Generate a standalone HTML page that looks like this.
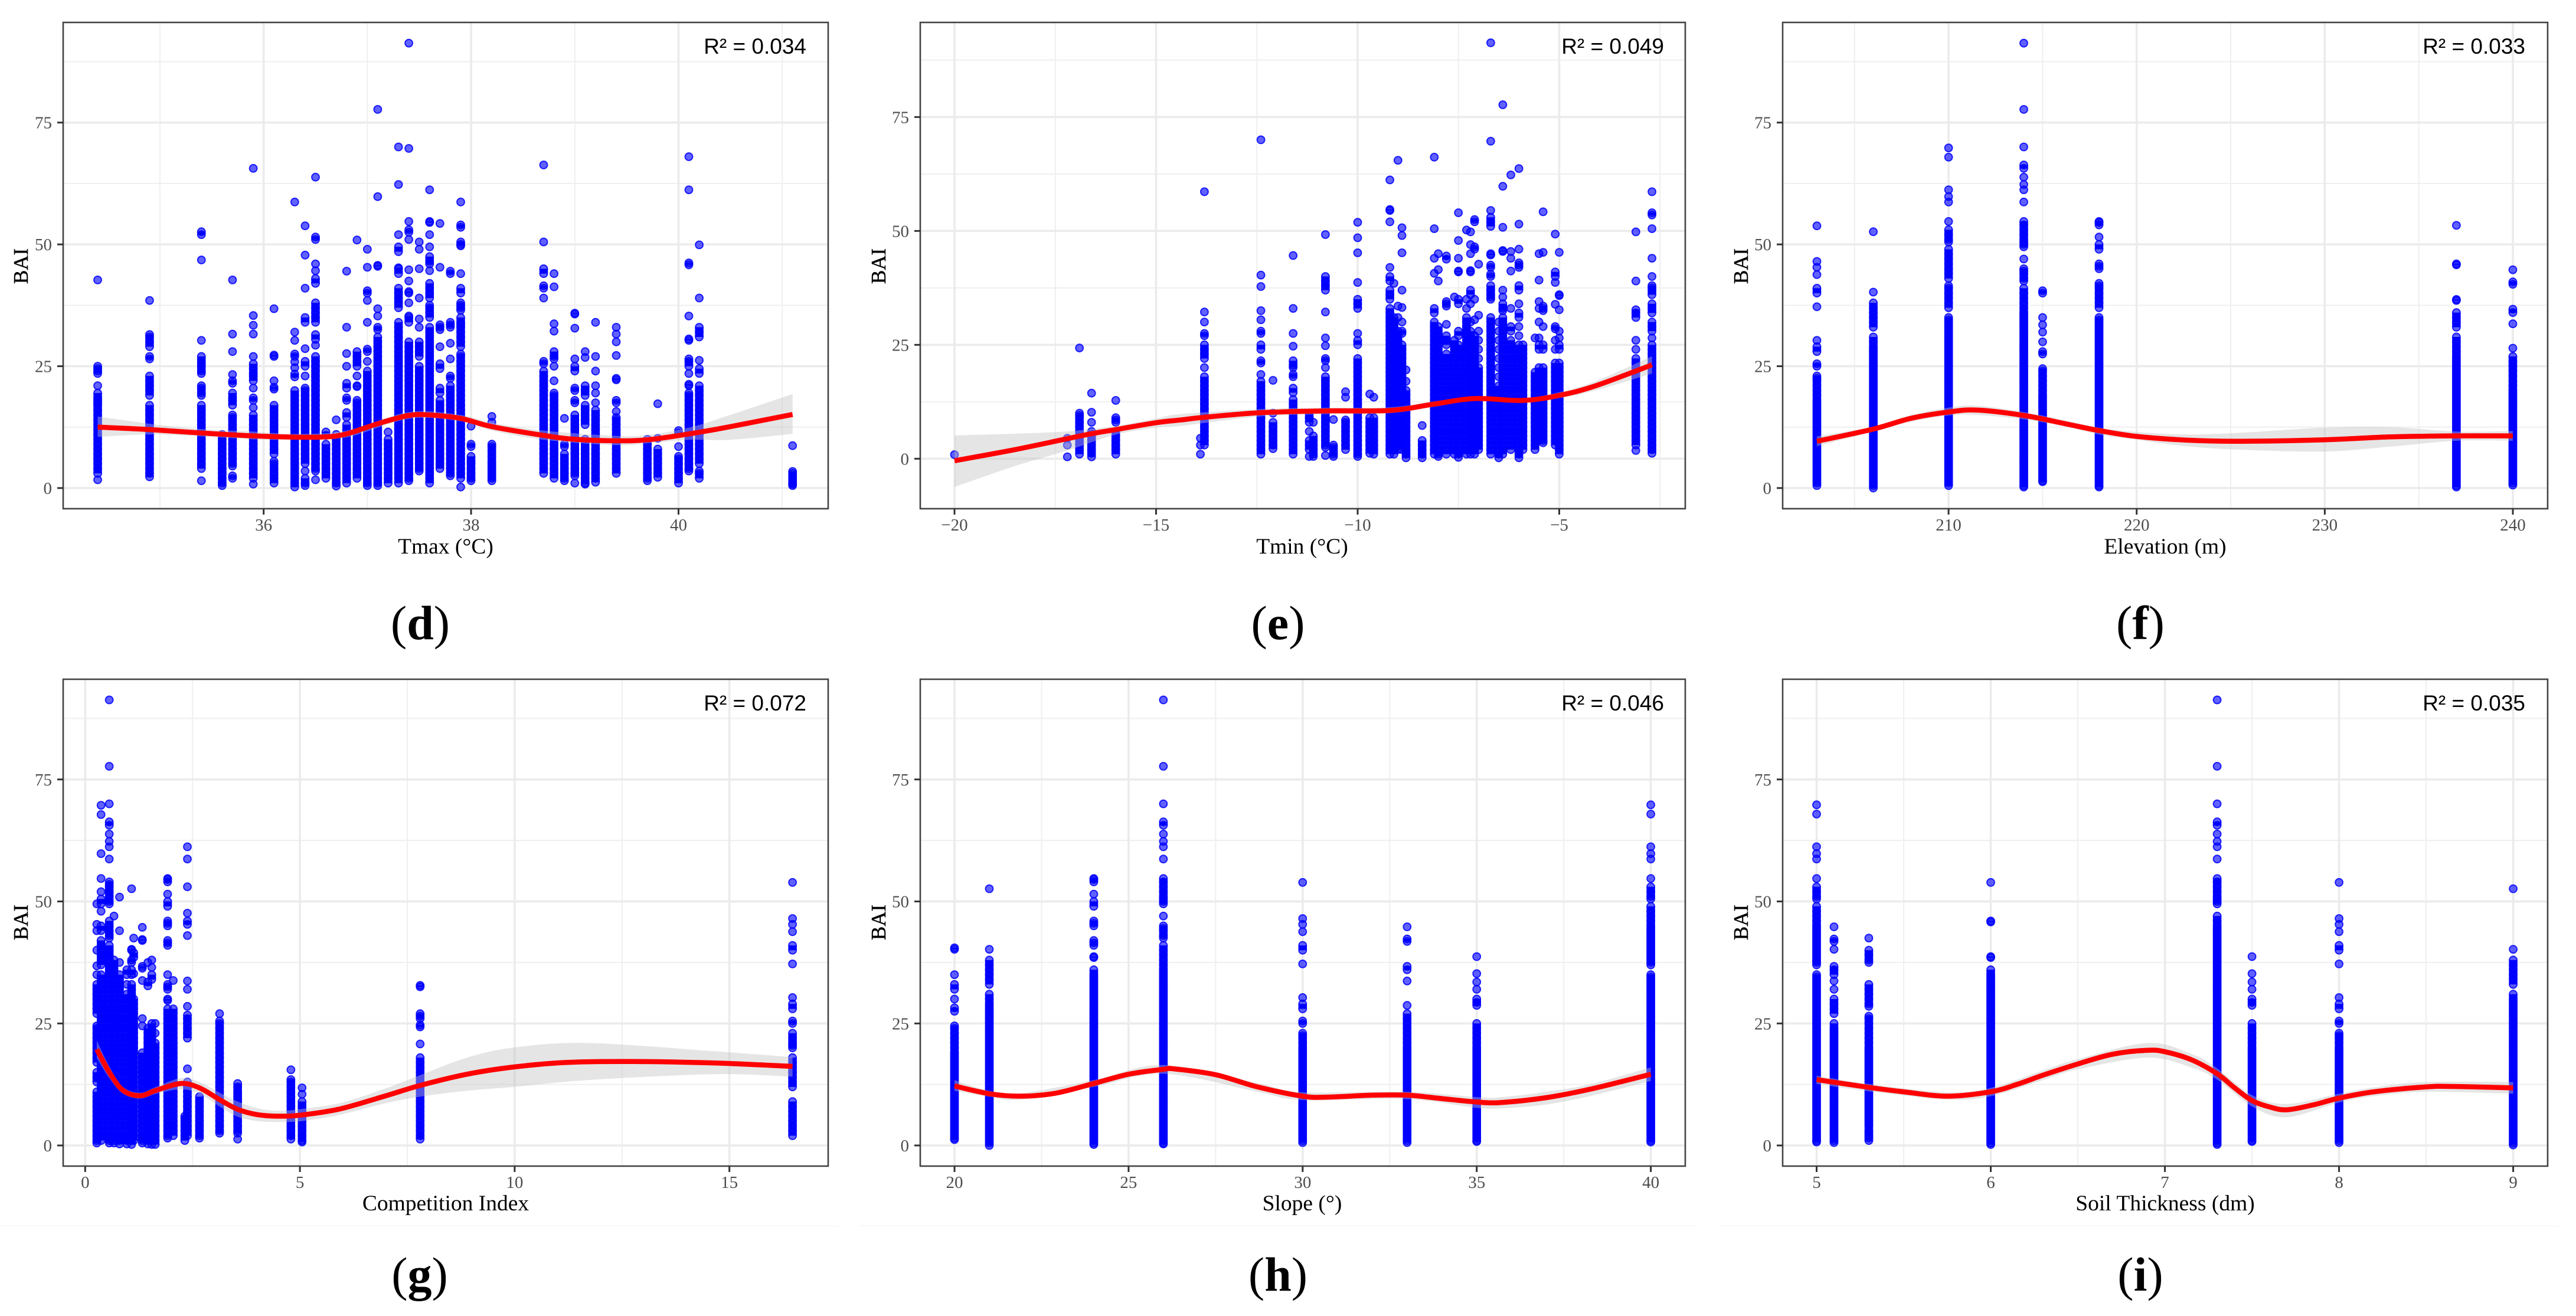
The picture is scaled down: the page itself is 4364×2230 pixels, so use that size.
<!DOCTYPE html>
<html lang="en">
<head>
<meta charset="utf-8">
<title>BAI scatter panels</title>
<style>
html,body{margin:0;padding:0;background:#fff;}
svg{display:block;}
.tick{font-family:"Liberation Serif",serif;font-size:29px;fill:#4d4d4d;}
.axt{font-family:"Liberation Serif",serif;font-size:37.5px;fill:#000;}
.bai{font-family:"Liberation Serif",serif;font-size:35px;fill:#000;stroke:#000;stroke-width:.5px;}
.r2{font-family:"Liberation Sans",sans-serif;font-size:37px;fill:#000;}
.cap{font-family:"Liberation Serif",serif;font-size:82px;fill:#000;}
.cap tspan{font-weight:bold;}
</style>
</head>
<body>
<svg id="fig" xmlns="http://www.w3.org/2000/svg" width="4364" height="2230" viewBox="0 0 4364 2230">
<rect width="4364" height="2230" fill="#fff"/>
<line x1="0" x2="1420" y1="2077" y2="2077" stroke="#f7f7f7" stroke-width="1.5"/>
<line x1="1455" x2="2875" y1="2077" y2="2077" stroke="#f7f7f7" stroke-width="1.5"/>
<line x1="2915" x2="4335" y1="2077" y2="2077" stroke="#f7f7f7" stroke-width="1.5"/>
<g id="panel-d"><g class="marks"></g>
<text class="axt" x="755" y="938" text-anchor="middle">Tmax (°C)</text>
<text class="bai" transform="translate(47,451) rotate(-90)" text-anchor="middle">BAI</text>
<text class="r2" x="1366" y="91" text-anchor="end">R² = 0.034</text>
<text class="cap" x="712" y="1083" text-anchor="middle">(<tspan>d</tspan>)</text></g>
<g id="panel-e"><g class="marks"></g>
<text class="axt" x="2206" y="938" text-anchor="middle">Tmin (°C)</text>
<text class="bai" transform="translate(1500,451) rotate(-90)" text-anchor="middle">BAI</text>
<text class="r2" x="2819" y="91" text-anchor="end">R² = 0.049</text>
<text class="cap" x="2165" y="1083" text-anchor="middle">(<tspan>e</tspan>)</text></g>
<g id="panel-f"><g class="marks"></g>
<text class="axt" x="3668" y="938" text-anchor="middle">Elevation (m)</text>
<text class="bai" transform="translate(2961,451) rotate(-90)" text-anchor="middle">BAI</text>
<text class="r2" x="4278" y="91" text-anchor="end">R² = 0.033</text>
<text class="cap" x="3626" y="1083" text-anchor="middle">(<tspan>f</tspan>)</text></g>
<g id="panel-g"><g class="marks"></g>
<text class="axt" x="755" y="2051" text-anchor="middle">Competition Index</text>
<text class="bai" transform="translate(47,1563) rotate(-90)" text-anchor="middle">BAI</text>
<text class="r2" x="1366" y="1204" text-anchor="end">R² = 0.072</text>
<text class="cap" x="711" y="2187" text-anchor="middle">(<tspan>g</tspan>)</text></g>
<g id="panel-h"><g class="marks"></g>
<text class="axt" x="2206" y="2051" text-anchor="middle">Slope (°)</text>
<text class="bai" transform="translate(1500,1563) rotate(-90)" text-anchor="middle">BAI</text>
<text class="r2" x="2819" y="1204" text-anchor="end">R² = 0.046</text>
<text class="cap" x="2165" y="2187" text-anchor="middle">(<tspan>h</tspan>)</text></g>
<g id="panel-i"><g class="marks"></g>
<text class="axt" x="3668" y="2051" text-anchor="middle">Soil Thickness (dm)</text>
<text class="bai" transform="translate(2961,1563) rotate(-90)" text-anchor="middle">BAI</text>
<text class="r2" x="4278" y="1204" text-anchor="end">R² = 0.035</text>
<text class="cap" x="3626" y="2187" text-anchor="middle">(<tspan>i</tspan>)</text></g>
</svg>
<script>
const yTicks=[0,25,50,75];
const yMinor=[12.5,37.5,62.5,87.5];

const dXTicks=[36,38,40];
const dXMinor=[35,37,39,41];
const dCols=[34.4,34.9,35.4,35.6,35.7,35.9,36.1,36.3,36.4,36.5,36.6,36.7,36.8,36.9,37,37.1,37.2,37.3,37.4,37.5,37.6,37.7,37.8,37.9,38,38.2,38.7,38.8,38.9,39,39.1,39.2,39.4,39.7,39.8,40,40.1,40.2,41.1];
const dVals=[
[42.7,25,24.5,24,23.5,21,19.5,18.5,18,17.5,17,16,15,14,13,12,11,10,9,8,7,6,5,4,3,1.7],
[38.5,31.5,31,30,29,27,26.5,23,22,21,20,19,17,16,15,14,13,12,11,10,9,8,7,6,5,4,3,2.3],
[52.6,52,46.8,30.3,27,26,25.5,25,24,23.5,21,20.5,19.5,19,17,16,15,14,13,12,11,10,9,8,7,6,5,4,1.5],
[11,10,9,8,7,6,5,4,3,2,1,.5],
[42.7,31.6,28,23.3,22,21.5,19.5,18.5,18,17,15,14.5,14,13,12,11,10,9,8,7,6,5,4.5,2.5,2],
[65.6,35.4,33.4,31.6,27,25.5,24.5,23.5,23,22,20.5,18.5,18,16.5,15,14,13,12,11,10,9,8,7,6,5,4,3,2,.8],
[36.8,27.3,27,22,20.7,20.3,17,16,15,14,13,12,11,10,9,8,7,5.5,5,4,3,2,1],
[58.7,32,30.3,27.5,27,25.9,24.7,23.4,22.8,20,19,18,17,16,15,14,13,12,11,10,9,8,7,6,5,4,3,2,1,.2],
[53.8,47.8,41,35,34,28.6,26,25,23,20.5,20,19,18,17,16,15,14,13,12,11,10,9,8,7,6,5,3.5,2,1,.5],
[63.8,51.5,51,46,44.6,43,42,38,37,36,35,34,31.5,30.5,29.3,27,26,25,24,23,22,21,20,19,18,17,16,15,14,13,12,11,10,9,8,7,6,5,4,3.5,1.7],
[11.5,10.8,9,8,7,6,5,4,3,2],
[14,11,10,9,8,7,6,5,4,3,2,1,.4],
[44.5,33,27.6,25,21.5,20.5,18.5,18,15.5,14.5,13,12,11,10,9,8,7,6,5,4,3,2,1],
[50.9,28,27,26,25,23,21,20.8,18,17.5,17,16,15,14,13,12,11,10,9,8,7,6,5,4,3,2],
[49,45.3,40.5,40,38.5,34,28.5,28,26,24,23,22,21,20,19,18,17,16,15,14,13,12,11,10,9,8,7,6,5,4,3,2,1,.5],
[77.7,59.8,45.7,45.5,36.8,35.3,33,32.5,31,30,29,28,27,26,25,24,23,22,21,20,19,18,17,16,15,14,13,12,11,10,9,8,7,6,5,4,3,2,1,.5],
[11.5,10,9,8,7,6,5,4,3,2,1],
[70,62.3,52,49.5,48.5,45.2,45,44,41,40,39,38,37,34,33,32,31,30,29,28,27,26,25,24,23,22,21,20,19,18,17,16,15,14,13,12,11,10,9,8,7,6,5,4,3,2,1],
[91.3,69.7,54.7,53,52.5,51,44.8,42.5,40.3,40,38,35.3,35,34,30,29,28,27,26,25,24,23,22,21,20,19,18,17,16,15,14,13,12,11,10,9,8,7,6,5,4,3,2,1.5],
[50.5,49,45,39,34.7,33,30,29,28,27,25,24,23,22,21,20,19,18,17,16,15,14,13,12,11,10,9,8,7,6,5,4,3.5],
[61.2,54.7,54.5,52,49.5,47.5,46.5,46,44.6,42,41,40,39,37.5,37,36,35,33,32,31,30,29,28,27,26,25,24,23,22,21,20,19,18,17,16,15,14,13,12,11,10,9,8,7,6,5,4,3,2,1],
[54.3,45.3,33.5,33,32.5,29,25.5,24.5,20.5,19.5,18,17,16,15,14,13,12,11,10,9,8,7,6,5,4],
[44.5,44,34,33.5,33,29.7,26.5,23,22.5,21,20,19,18,17,16,15,14,13,12,11,10,9,8,7,6,5,4,3,2.5],
[58.7,54,53.5,50.5,50,49.7,44,41,40,38,37.5,37,36.5,35,34,33.5,33,32,31,30,29,27.5,27,26,25,24,23,22,21,20,19,18,17,16,15,14,13,12,11,10,9,8,7,6,5,4,3,2,.2],
[12.7,9,8.5,6.5,5.5,5,4,3,2,1.5],
[14.7,13.5,9,8.5,7.5,6.5,5.5,5,4.5,4,3.5,3,2.5,2,1.5],
[66.3,50.5,45,44,41.5,41,39,26,25.5,24,23,22,21,20,19,18,17,16,15,14,13,12,11,10,9,8,7,6,5,4,3],
[44,41.3,33.7,32.2,28,27,26.5,25,22,19.5,19,18,17,16,15,14,13,12,11,10,9,8,7,6,5,4,3,2],
[14.3,9,8.5,7,6,5,4,3,2,1.5],
[35.9,35.7,32.8,26.5,25,24,20.5,20,18,17.5,15,14,13,12,11,10,9,8,7,6,5,4,3,2.5,1],
[28,26.8,21,20,19,17,16,15,14,13,10,9,8,7,6,5,4,3,2,1,.8],
[34,27,24,21,19.5,17.5,16,15,14,13,12,11,10,9,8,7,6,5,4,3,2,1.2],
[33,31.6,30,27.2,22.5,22.2,18,17.5,15.7,14.5,14,13,12,11,10,9,8,7,6,5,4,3],
[10,9,8,7,6,5,4,3,2,1.5],
[17.3,10.2,8,7,6,5,4,3,2.2],
[11.8,11.3,8.5,6.5,6,5,4,3,2,1],
[68,61.2,46.2,45.8,35.3,30.6,30.3,26.5,26,25,23.5,21.3,21,19.5,19,18,17,16,15,14,13,12,11,10,9,8,7,6,5,4,3.5],
[49.9,39,33,32,31,26.2,24.5,23.5,21,20,19,18,17,16,15,14,13,12,11,10,9,8,7,6,5,3.5,3,2],
[8.7,3.4,3,2.5,2,1.5,1,.8,.5]
];
const dLineX=[34.4,34.9,35.4,35.9,36.3,36.6,36.8,37.1,37.4,37.6,37.9,38.2,38.7,39,39.4,39.7,40.1,40.5,41.1];
const dLineY=[12.5,12,11.3,10.7,10.45,10.5,11.1,13.2,14.9,15,14.3,12.6,10.8,10,9.7,9.9,11.1,12.6,15.1];
const dBandX=[34.4,34.9,35.4,35.9,36.3,36.8,37.4,37.9,38.2,38.7,39.4,39.7,40.1,40.5,41.1];
const dBandHi=[14.7,13.2,12.1,11.6,11.1,11.8,15.6,15,13.4,11.8,10.7,10.9,12.4,15,19.3];
const dBandLo=[10.5,11,10.6,10,9.9,10.4,14.2,13.7,11.8,9.9,8.8,9.2,9.9,9.9,11.1];

const eXTicks=[-20,-15,-10,-5];
const eXMinor=[-17.5,-12.5,-7.5,-2.5];
const eCols=[-20,-17.2,-16.9,-16.6,-16,-13.9,-13.8,-12.4,-12.1,-11.6,-11.2,-11.1,-10.8,-10.6,-10.3,-10,-9.7,-9.6,-9.2,-9.1,-9,-8.9,-8.8,-8.4,-8.1,-8,-7.8,-7.6,-7.5,-7.3,-7.2,-7.1,-7,-6.7,-6.5,-6.4,-6.2,-6,-5.9,-5.6,-5.5,-5.4,-5.1,-5,-3.1,-2.7];
const eVals=[
[.9],
[4.5,3,.4],
[24.3,10,9.5,9,8,7,6,5,4,3,2,1],
[14.4,10.2,8,6,5.5,5,4.5,4,3,2,1.2,.4],
[12.8,9,8.5,8,6,5,4,3,2,1],
[4.5,3,1],
[58.6,32.2,30,27.5,27,25,24,23,22,20,18,17,16,15,14,13,12,11,10,9,8,7,6,5,4,3],
[70,40.3,37.8,32.5,30.5,28,27.5,25,24,21.5,21,18.5,17,16,15,14,13,12,11,10,9,8,7,6,5,4,3,2,1],
[17.2,10,8,7,6,5,4,3,2.2],
[44.6,33,27.5,24.7,21.5,20.5,20,18.5,18,15.5,14.5,13,12,11,10,9,8,7,6,5,4,3,2,1],
[10,9,8,6,4,3,2,.5],
[8,5,4,3,2,1,.5],
[49.2,40,39,38,37,32.2,26.5,24.8,22,21.5,20,18,17,16,15,14,13,12,11,10,9,8,7,6,5,4,3,2.5,.7],
[8.6,3,2.5,2,1.5,1,.5],
[14.7,13.5,8.5,8,7,6,5,4,3,2],
[51.9,48.5,45.2,38.7,35,34,33,27.5,26,25,22,21,20,19,18,17,16,15,14,13,12,11,10,9,8,7,6,5,4,3,2,1,.5],
[14.2,9,8,7,6,5,4,3,2,1.2],
[13.5,9,8,7,6,5,4,3,2,1],
[61.2,54.7,54.5,52,42,40,39,37,36,35,33,32,31,30,29,28,27,26,25,24,23,22,21,20,19,18,17,16,15,14,13,12,11,10,9,8,7,6,5,4,3,2,1],
[38.5,31,30,29,28,27,26,25,24,23,22,21,20,19,18,17,16,15,14,13,12,11,10,9,8,7,6,5,4,3,2,1],
[65.5,33.5,31,28,27,26,25,24,23,22,21,20,19,18,17,16,15,14,13,12,11,10,9,8,7,6,5,4,3,2],
[50.7,49,45.2,37,33.2,30,28,27.5,25,24,23,22,21,20,19,18,17,16,15,14,13,12,11,10,9,8,7,6,5,4,3,2],
[19.5,17,15,14,13,12,11,10,9,8,7,6,5,4,3,2,1,.2],
[7.3,4,3,2,1,.2],
[66.2,50.5,44,40.7,33,32,30,29,28,27,26,25,24,23,22,21,20,19,18,17,16,15,14,13,12,11,10,9,8,7,6,5,4,3,2,1],
[45,41.5,39,29,28,27,26,25,24,23,22,21,20,19,18,17,16,15,14,13,12,11,10,9,8,7,6,5,4,3,2,1,.5],
[44.5,43.8,34.5,34,33.5,29.5,27,26,25,23,22,21,20,19,18,17,16,15,14,13,12,11,10,9,8,7,6,5,4,3,2,1],
[35.5,26,25,24,23,22,21,20,19,18,17,16,15,14,13,12,11,10,9,8,7,6,5,4,3,2,1],
[54,47.9,44,41.2,41,35,34,28,27,25,24,23,22,21,20,19,18,17,16,15,14,13,12,11,10,9,8,7,6,5,4,3,2,1,.3],
[50.2,35,33,31,30,29,28,27,26,25,24,23,22,21,20,19,18,17,16,15,14,13,12,11,10,9,8,7,6,5,4,3,2,1],
[49.8,47,45,41.3,41,37,36,34,30,28,27,26,25,24,23,22,21,20,19,18,17,16,15,14,13,12,11,10,9,8,7,6,5,4,3,2,1],
[52.5,52,46.5,46,35,30.5,27,26,25,24,23,22,21,20,19,18,17,16,15,14,13,12,11,10,9,8,7,6,5,4,3,2,1],
[42.7,31.5,28,26,24,22,20,19,18,17,16,15,14,13,12,11,10,9,8,7,6,5,4,3,2],
[91.3,69.7,54.5,53,52,51,45,44.7,42.5,42,40.5,40,38,37,36,35.5,35,31,30,29,28,27,26,25,24,23,22,21,20,19,18,17,16,15,14,13,12,11,10,9,8,7,6,5,4,3,2,1],
[30,28,26,24,22,20,18,16,15,14,13,12,11,10,9,8,7,6,5,4,3,2,1,.2],
[77.7,59.8,50.8,45.7,45.5,37,35.5,34,33,32.5,31,30,29,28,27,26,25,24,23,22,21,20,19,18,17,16,15,14,13,12,11,10,9,8,7,6,5,4,3,2,1],
[62.3,45.5,44,41.2,33,29,28,26,25,24,23,22,21,20,19,18,17,16,15,14,13,12,11,10,9,8,7,6,5,4,3,2],
[63.7,51.5,46,43,42.5,42,38,37,34,32,31,29,27,25,24,23,22,21,20,19,18,17,16,15,14,13,12,11,10,9,8,7,6,5,4,3,2,1,.2],
[25,24,23,22,21,20,19,18,17,16,15,14,13,12,11,10,9,8,7,6,5,4,3,2],
[26.5,19,18,17,16,15,14,13,12,11,10,9,8,7,6,5,4,3,2],
[45,39.2,34.5,33,30,26.5,25,24,20,19,18,17,16,15,14,13,12,11,10,9,8,7,6,5,4],
[54.2,45.3,33.5,33,32.5,29,25,24,20,19,18,17,16,15,14,13,12,11,10,9,8,7,6,5,4,3.5],
[49.3,41,40,38.7,33.9,29,28.5,26,24,21,20,19,18,17,16,15,14,13,12,11,10,9,8,7,6,5,4,3],
[45.3,36,35.8,32.7,28,26.5,25,24,21,20,19,18,17,16,15,14,13,12,11,10,9,8,7,6,5,4,3,2,1],
[49.8,39,32.7,32,31,26,24,22,21,20,19,18,17,16,15,14,13,12,11,10,9,8,7,6,5,4,3,1.8],
[58.6,54,53.5,50.5,44,40,38,37.5,37,36,34,33,32,30,29,28,26.5,25,24,23,22,21,20,19,18,17,16,15,14,13,12,11,10,9,8,7,6,5,4,3,2,1.2]
];
const eLineX=[-20,-18.5,-17.2,-16.6,-16,-15,-14.4,-13.8,-12.4,-10.8,-9.2,-8.1,-7.1,-5.9,-5,-4.1,-2.7];
const eLineY=[-.45,2,4.4,5.5,6.4,7.9,8.5,9.1,10.1,10.5,10.6,12,13.2,12.8,13.9,16,20.6];
const eBandX=[-20,-18.5,-17.2,-16,-15,-14.4,-12.4,-10.8,-9.2,-8.1,-7.1,-5.9,-5,-4.1,-2.7];
const eBandHi=[5.1,5.5,6,7.2,8.8,9.8,10.9,11.2,11.3,12.6,13.7,13.3,14.6,17,22.5];
const eBandLo=[-6.2,-1.6,1.8,5.3,6.8,7.2,9.3,9.8,10,11.4,12.7,12.3,13.3,15,18.7];

const fXTicks=[210,220,230,240];
const fXMinor=[205,215,225,235];
const fCols=[203,206,210,214,215,218,237,240];
const fVals=[
[53.8,46.5,45.3,43.8,41,40,37.2,30.3,29,28,25.5,25,23,22.5,22,21,20,19,18,17.5,17,16.5,16,15.5,15,14.5,14,13.5,13,12.5,12,11.5,11,10.5,10,9.5,9,8.5,8,7.5,7,6.5,6,5.5,5,4.5,4,3.5,3,2.5,2,1.5,1,.5],
[52.6,40.2,38,37,36,35,34,33,31,30,29,28.5,28,27.5,27,26.5,26,25.5,25,24.5,24,23.5,23,22.5,22,21.5,21,20.5,20,19.5,19,18.5,18,17.5,17,16.5,16,15.5,15,14.5,14,13.5,13,12.5,12,11.5,11,10.5,10,9.5,9,8.5,8,7.5,7,6.5,6,5.5,5,4.5,4,3.5,3,2.5,2,1.5,1,.5,0],
[69.8,67.9,61.2,59.8,58.7,54.7,53,52,51,50.5,49,48,47,46,45,44,43,41.5,41,40,39,38,37,35,34.5,34,33.5,33,32.5,32,31.5,31,30.5,30,29.5,29,28.5,28,27.5,27,26.5,26,25.5,25,24.5,24,23.5,23,22.5,22,21.5,21,20.5,20,19.5,19,18.5,18,17.5,17,16.5,16,15.5,15,14.5,14,13.5,13,12.5,12,11.5,11,10.5,10,9.5,9,8.5,8,7.5,7,6.5,6,5.5,5,4.5,4,3.5,3,2.5,2,1.5,1,.5],
[91.3,77.7,70,66.3,65.6,63.8,62.3,61.2,58.7,54.7,54,53,52,51,50.5,50,49.5,47,45,44.5,44,43,42.5,41,40,39,38,37,36,35.5,35,34.5,34,33.5,33,32.5,32,31.5,31,30.5,30,29.5,29,28.5,28,27.5,27,26.5,26,25.5,25,24.5,24,23.5,23,22.5,22,21.5,21,20.5,20,19.5,19,18.5,18,17.5,17,16.5,16,15.5,15,14.5,14,13.5,13,12.5,12,11.5,11,10.5,10,9.5,9,8.5,8,7.5,7,6.5,6,5.5,5,4.5,4,3.5,3,2.5,2,1.5,1,.5,.2],
[40.5,40,35,33.5,32,30,28,27.5,24.5,24,23,22,21,20,19,18.5,18,17.5,17,16.5,16,15.5,15,14.5,14,13.5,13,12.5,12,11.5,11,10.5,10,9.5,9,8.5,8,7.5,7,6.5,6,5.5,5,4.5,4,3.5,3,2.5,2,1.5,1.3],
[54.7,54.5,54,51.5,50,49,46,45.5,45,42,41.5,41,40,39,38,37,35,34.5,34,33.5,33,32.5,32,31.5,31,30.5,30,29.5,29,28.5,28,27.5,27,26.5,26,25.5,25,24.5,24,23.5,23,22.5,22,21.5,21,20.5,20,19.5,19,18.5,18,17.5,17,16.5,16,15.5,15,14.5,14,13.5,13,12.5,12,11.5,11,10.5,10,9.5,9,8.5,8,7.5,7,6.5,6,5.5,5,4.5,4,3.5,3,2.5,2,1.5,1,.5,.2],
[53.9,46,45.8,38.7,38.5,36,35,34,33,31,30,29,28,27,26.5,26,25.5,25,24.5,24,23.5,23,22.5,22,21.5,21,20.5,20,19.5,19,18.5,18,17.5,17,16.5,16,15.5,15,14.5,14,13.5,13,12.5,12,11.5,11,10.5,10,9.5,9,8.5,8,7.5,7,6.5,6,5.5,5,4.5,4,3.5,3,2.5,2,1.5,1,.5,.2],
[44.8,42.3,41.8,36.7,36,33.7,28.7,27,26,25,24,23,22,21,20,19.5,19,18.5,18,17.5,17,16.5,16,15.5,15,14.5,14,13.5,13,12.5,12,11.5,11,10.5,10,9.5,9,8.5,8,7.5,7,6.5,6,5.5,5,4.5,4,3.5,3,2.5,2,1.5,1,.6]
];
const fLineX=[203,206,208,210,211.5,214,216.2,218,220,222.6,225.3,230,233.5,237,240];
const fLineY=[9.6,12.1,14.3,15.6,16,14.9,13.2,11.8,10.6,9.85,9.6,9.9,10.5,10.7,10.7];
const fBandX=[203,206,208,210,211.5,214,216.2,218,220,222.6,225.3,230,233.5,237,240];
const fBandHi=[10.6,12.6,15,16.5,16.9,15.6,13.9,12.4,11.5,11,11.3,12.4,12.5,11.6,11.7];
const fBandLo=[8.6,11.6,13.6,14.9,15,14.1,12.6,11,9.9,8.6,7.9,7.5,8.5,9.7,9.7];

const gXTicks=[0,5,10,15];
const gXMinor=[2.5,7.5,12.5];
const gCols=[.27,.37,.56,.67,.8,.97,1.08,1.13,1.33,1.46,1.55,1.63,1.92,2.05,2.32,2.38,2.66,3.13,3.55,4.79,5.05,7.8,16.47];
const gVals=[
[49.5,45.3,44,40,36.8,35,33,32,31,30,29,28,27,24.5,24,23,22,21,20,19,18,17,15,14,13,11,10,9,8,7,6,5,4,3,2,1,.5],
[69.7,67.8,59.8,54.7,52,50.5,49.5,48,45,44,42,41,40,39,38,37,35,34,33,32,31,30,29,28,27,26,25,24,23,22,21,20,19,18,17,16,15,14,13,12,11,10,9,8,7,6,5,4,3,2,1],
[91.3,77.7,70,66.3,65.6,63.8,62.3,61.2,58.7,54,53.5,53,52,51,50,49.5,46,45,44,43,42.5,41,40,39,38,37,36,35,34,33,32,31,30,29,28,27,26,25,24,23,22,21,20,19,18,17,16,15,14,13,12,11,10,9,8,7,6,5,4,3,2,1,.5],
[47,38,37,36,35,34,33,32,31,30,29,28,27,26,25,24,23,22,21,20,19,18,17,16,15,14,13,12,11,10,9,8,7,6,5,4,3,2,1,.5],
[50.9,44,37.5,35,34,33,32,31,30,29,28,27,26,25,24,23,22,21,20,19,18,17,16,15,14,13,12,11,10,9,8,7,6,5,4,3,2,1,.3],
[36,35,33,31,30,29,28,27,26,25,24,23,22,21,20,19,18,17,16,15,14,13,12,11,10,9,8,7,6,5,4,3,2,1,.3],
[52.6,40.2,40,38,37.5,36,35,33,32,31,30,29,28,27,26,25,24,23,22,21,20,19,18,17,16,15,14,13,12,11,10,9,8,7,6,5,4,3,2,1,.2],
[42.5,39.5,38.5,35.2,30,29,28,27,26,25,24,23,22,21,20,19,18,17,16,15,14,13,12,11,10,9,8,7,6,5,4,3,2,1],
[44.7,42.2,42,36.7,36.3,33.8,26,24.5,19,18,17,16,15,14,13,12,11,10,9,8,7,6,5,4,3,2,1,.5],
[37.5,33.5,32.7,24,23,22,21,20,19,18,17,16,15,14,13,12,11,10,9,8,7,6,5,4,3,2,1,.3],
[38,36.5,35,34,25,24,23,22,21,20,19,18,17,16,15,14,13,12,11,10,9,8,7,6,5,4,3,2,1,.2],
[25,23,21,20,19,18,17,16,15,14,13,12,11,10,9,8,7,6,5,4,3,2,1,.2],
[54.7,54.5,54,51.5,50,49,46,45.5,45,42,41.5,41,35,33,32.5,32,30,29.7,28,27,26,25,24,23,22,21,20,19,18,17,16,15,14,13,12,11,10,9,8,7,6,5,4,3,2,1.5],
[33.8,28,27,26,25,24,23,22,21,20,19,18,17,16,15,14,13,12,11,10,9,8,7,6,5,4,3,2],
[6,5.5,5,4,3,2,1],
[61.2,58.7,53,47.6,46,45.3,43,33.7,32,28.5,26.7,26,25,24,23,22,15.7,13,12,11,10,9,8,7,6,5,4,3,2],
[10,9,8,7,6,5,4,3,2,1.5],
[27,25.5,25,24,23,22,21,20,19,18,17,16,15,14,13,12,11,10,9,8,7,6,5,4,3,2.5],
[12.7,12,11,10.5,10,9.5,9,8,7,6,5,4,3,2.5,1.3],
[15.5,13.5,13,12,11,10,9,8,7,6,5,4,3,2,1.3],
[11.8,10.5,9,8,7,6,5,4,3,2,1,.7],
[32.8,32.5,27,26.5,26,24.7,24.3,20.8,18,17,16,15,14,13,12,11,10,9,8,7,6,5,4,3,2,1.3],
[53.9,46.5,45.3,43.8,41,40,37.2,30.3,29,28,25.5,25,23,22,21,20.5,20,18,17,16,15,14,13,12,9,8,7,6,5,4,3,2]
];
const gLineX=[.27,.56,.88,1.28,1.65,2.23,2.66,3.13,3.55,4.02,4.53,5.05,5.94,6.97,7.8,8.89,10,11.2,12.73,14.65,16.47];
const gLineY=[19.7,15,11.3,10.2,11.3,12.7,11.8,9.4,7.4,6.3,6,6.25,7.5,10.1,12.3,14.6,16.1,17,17.2,16.9,16.2];
const gBandX=[.27,.56,.88,1.28,1.65,2.23,2.66,3.13,3.55,4.02,4.53,5.05,5.94,6.97,7.8,8.89,10,11.7,14.65,16.47];
const gBandHi=[21.5,16.2,12,10.8,12,13.8,13,10.8,9,7.6,7.1,7.5,8.7,11.6,14.4,18,20.1,21,19.3,18.1];
const gBandLo=[17.9,13.8,10.6,9.6,10.6,11.5,10.6,8,5.9,5,4.8,5,6.3,8.6,10,11.2,12,13.4,14.6,14.1];

const hXTicks=[20,25,30,35,40];
const hXMinor=[22.5,27.5,32.5,37.5];
const hCols=[20,21,24,26,30,33,35,40];
const hVals=[
[40.5,40.2,35,33,32,30,28.2,27.5,24.5,24,23,22,21,20,19,18.5,18,17.5,17,16.5,16,15.5,15,14.5,14,13.5,13,12.5,12,11.5,11,10.5,10,9.5,9,8.5,8,7.5,7,6.5,6,5.5,5,4.5,4,3.5,3,2.5,2,1.5,1.2],
[52.6,40.2,38,37,36,35,34,33,31,30,29,28.5,28,27.5,27,26.5,26,25.5,25,24.5,24,23.5,23,22.5,22,21.5,21,20.5,20,19.5,19,18.5,18,17.5,17,16.5,16,15.5,15,14.5,14,13.5,13,12.5,12,11.5,11,10.5,10,9.5,9,8.5,8,7.5,7,6.5,6,5.5,5,4.5,4,3.5,3,2.5,2,1.5,1,.5,0],
[54.7,54.5,54,51.5,50,49,46,45.5,45,42,41.5,41,38.7,38.5,36,35,34.5,34,33.5,33,32.5,32,31.5,31,30.5,30,29.5,29,28.5,28,27.5,27,26.5,26,25.5,25,24.5,24,23.5,23,22.5,22,21.5,21,20.5,20,19.5,19,18.5,18,17.5,17,16.5,16,15.5,15,14.5,14,13.5,13,12.5,12,11.5,11,10.5,10,9.5,9,8.5,8,7.5,7,6.5,6,5.5,5,4.5,4,3.5,3,2.5,2,1.5,1,.5,.2],
[91.3,77.7,70,66.3,65.6,63.8,62.3,61.2,58.7,54.7,54,53,52,51,50.5,50,49.5,47,45,44.5,44,43,42.5,41,40,39,38,37,36,35.5,35,34.5,34,33.5,33,32.5,32,31.5,31,30.5,30,29.5,29,28.5,28,27.5,27,26.5,26,25.5,25,24.5,24,23.5,23,22.5,22,21.5,21,20.5,20,19.5,19,18.5,18,17.5,17,16.5,16,15.5,15,14.5,14,13.5,13,12.5,12,11.5,11,10.5,10,9.5,9,8.5,8,7.5,7,6.5,6,5.5,5,4.5,4,3.5,3,2.5,2,1.5,1,.5,.3],
[53.9,46.5,45.3,43.8,41,40,37.2,30.3,29,28,25.5,25,23,22.5,22,21,20,19.5,19,18.5,18,17.5,17,16.5,16,15.5,15,14.5,14,13.5,13,12.5,12,11.5,11,10.5,10,9.5,9,8.5,8,7.5,7,6.5,6,5.5,5,4.5,4,3.5,3,2.5,2,1.5,1,.6],
[44.8,42.3,41.8,36.7,36,33.7,28.7,27,26,25,24,23,22,21,20,19.5,19,18.5,18,17.5,17,16.5,16,15.5,15,14.5,14,13.5,13,12.5,12,11.5,11,10.5,10,9.5,9,8.5,8,7.5,7,6.5,6,5.5,5,4.5,4,3.5,3,2.5,2,1.5,1,.6],
[38.7,35.2,33.5,32,30,29.3,28.7,25,24,23,22,21,20,19.5,19,18.5,18,17.5,17,16.5,16,15.5,15,14.5,14,13.5,13,12.5,12,11.5,11,10.5,10,9.5,9,8.5,8,7.5,7,6.5,6,5.5,5,4.5,4,3.5,3,2.5,2,1.5,1,.8],
[69.8,67.9,61.2,59.8,58.7,54.7,53,52,51,50.5,49,48,47,46,45,44.5,44,43.5,43,42.5,42,41.5,41,40.5,40,39.5,39,38.5,38,37.5,37,35,34.5,34,33.5,33,32.5,32,31.5,31,30.5,30,29.5,29,28.5,28,27.5,27,26.5,26,25.5,25,24.5,24,23.5,23,22.5,22,21.5,21,20.5,20,19.5,19,18.5,18,17.5,17,16.5,16,15.5,15,14.5,14,13.5,13,12.5,12,11.5,11,10.5,10,9.5,9,8.5,8,7.5,7,6.5,6,5.5,5,4.5,4,3.5,3,2.5,2,1.5,1,.7]
];
const hLineX=[20,21,21.9,22.9,24,25,26,26.3,27.5,28.7,30,30.7,32,33,34,35,35.7,37,38.3,40];
const hLineY=[12.2,10.6,10.1,10.7,12.7,14.6,15.6,15.7,14.5,12,10.1,9.9,10.3,10.3,9.6,8.9,8.8,9.8,11.6,14.6];
const hBandX=[20,21,21.9,24,26,28.7,30,33,35,35.7,37,38.3,40];
const hBandHi=[13.4,11.2,10.7,13.4,16.5,12.8,10.9,11,9.9,9.9,11,12.6,16];
const hBandLo=[11.2,10,9.4,12,14.7,11,9.3,9.5,7.7,7.6,8.4,10.2,13.2];

const iXTicks=[5,6,7,8,9];
const iXMinor=[5.5,6.5,7.5,8.5];
const iCols=[5,5.1,5.3,6,7.3,7.5,8,9];
const iVals=[
[69.8,67.9,61.2,59.8,58.7,54.7,53,52,51,50.5,49,48,47,46,45,44.5,44,43.5,43,42.5,42,41.5,41,40.5,40,39.5,39,38.5,38,37.5,37,35,34.5,34,33.5,33,32.5,32,31.5,31,30.5,30,29.5,29,28.5,28,27.5,27,26.5,26,25.5,25,24.5,24,23.5,23,22.5,22,21.5,21,20.5,20,19.5,19,18.5,18,17.5,17,16.5,16,15.5,15,14.5,14,13.5,13,12.5,12,11.5,11,10.5,10,9.5,9,8.5,8,7.5,7,6.5,6,5.5,5,4.5,4,3.5,3,2.5,2,1.5,1,.7],
[44.8,42.3,41.8,40.2,36.7,36,35,33.7,32,30,29,28,27,25,24,23.5,23,22.5,22,21.5,21,20.5,20,19.5,19,18.5,18,17.5,17,16.5,16,15.5,15,14.5,14,13.5,13,12.5,12,11.5,11,10.5,10,9.5,9,8.5,8,7.5,7,6.5,6,5.5,5,4.5,4,3.5,3,2.5,2,1.5,1,.6],
[42.5,40,39,38,37.5,33,32,31,30,29,28.5,26.5,26,25,24,23,22,21,20,19.5,19,18.5,18,17.5,17,16.5,16,15.5,15,14.5,14,13.5,13,12.5,12,11.5,11,10.5,10,9.5,9,8.5,8,7.5,7,6.5,6,5.5,5,4.5,4,3,2.5,2,1.5,1],
[53.9,46,45.8,38.7,38.5,36,35,34.5,34,33.5,33,32.5,32,31.5,31,30.5,30,29.5,29,28.5,28,27.5,27,26.5,26,25.5,25,24.5,24,23.5,23,22.5,22,21.5,21,20.5,20,19.5,19,18.5,18,17.5,17,16.5,16,15.5,15,14.5,14,13.5,13,12.5,12,11.5,11,10.5,10,9.5,9,8.5,8,7.5,7,6.5,6,5.5,5,4.5,4,3.5,3,2.5,2,1.5,1,.5,.2],
[91.3,77.7,70,66.3,65.6,63.8,62.3,61.2,58.7,54.7,54,53,52,51,50.5,50,49.5,47,46,45,44.5,44,43.5,43,42.5,42,41.5,41,40.5,40,39.5,39,38.5,38,37.5,37,36.5,36,35.5,35,34.5,34,33.5,33,32.5,32,31.5,31,30.5,30,29.5,29,28.5,28,27.5,27,26.5,26,25.5,25,24.5,24,23.5,23,22.5,22,21.5,21,20.5,20,19.5,19,18.5,18,17.5,17,16.5,16,15.5,15,14.5,14,13.5,13,12.5,12,11.5,11,10.5,10,9.5,9,8.5,8,7.5,7,6.5,6,5.5,5,4.5,4,3.5,3,2.5,2,1.5,1,.5,.2],
[38.7,35.2,33.5,32,30,29.3,28.7,25,24,23,22,21,20,19.5,19,18.5,18,17.5,17,16.5,16,15.5,15,14.5,14,13.5,13,12.5,12,11.5,11,10.5,10,9.5,9,8.5,8,7.5,7,6.5,6,5.5,5,4.5,4,3.5,3,2.5,2,1.5,1,.8],
[53.9,46.5,45.3,43.8,41,40,37.2,30.3,29,28,25.5,25,23,22.5,22,21,20,19.5,19,18.5,18,17.5,17,16.5,16,15.5,15,14.5,14,13.5,13,12.5,12,11.5,11,10.5,10,9.5,9,8.5,8,7.5,7,6.5,6,5.5,5,4.5,4,3.5,3,2.5,2,1.5,1,.6],
[52.6,40.2,38,37,36,35,34,33,31,30,29.5,29,28.5,28,27.5,27,26.5,26,25.5,25,24.5,24,23.5,23,22.5,22,21.5,21,20.5,20,19.5,19,18.5,18,17.5,17,16.5,16,15.5,15,14.5,14,13.5,13,12.5,12,11.5,11,10.5,10,9.5,9,8.5,8,7.5,7,6.5,6,5.5,5,4.5,4,3.5,3,2.5,2,1.5,1,.5,.1]
];
const iLineX=[5,5.3,5.5,5.75,6,6.15,6.3,6.5,6.7,6.9,7,7.15,7.3,7.4,7.5,7.6,7.7,7.85,8,8.2,8.5,8.65,9];
const iLineY=[13.5,11.9,11,10.1,11,12.5,14.4,16.7,18.7,19.5,19.2,17.6,14.7,11.8,9.2,7.9,7.3,8.3,9.7,11,12,12.1,11.8];
const iBandX=[5,5.3,5.75,6,6.3,6.5,6.9,7.15,7.3,7.5,7.7,8,8.2,8.5,9];
const iBandHi=[14.3,12.6,10.9,11.8,15.4,17.7,21,18.8,15.8,10.3,8.5,10.6,11.9,13,13];
const iBandLo=[12.6,11.1,9.4,10.1,13.4,15.6,18,16,13.5,8,5.8,8.8,10.1,11,10.6];

const NS='http://www.w3.org/2000/svg';
function mk(parent,tag,attrs){
  const e=document.createElementNS(NS,tag);
  for(const k in attrs){e.setAttribute(k,attrs[k]);}
  parent.appendChild(e);
  return e;
}
function spline(pts){
  let d='M'+pts[0][0].toFixed(1)+' '+pts[0][1].toFixed(1);
  d+=splineTail(pts);
  return d;
}
function splineTail(pts){
  let d='';
  for(let i=0;i<pts.length-1;i++){
    const p0=pts[Math.max(i-1,0)],p1=pts[i],p2=pts[i+1],p3=pts[Math.min(i+2,pts.length-1)];
    const c1x=p1[0]+(p2[0]-p0[0])/6,c1y=p1[1]+(p2[1]-p0[1])/6;
    const c2x=p2[0]-(p3[0]-p1[0])/6,c2y=p2[1]-(p3[1]-p1[1])/6;
    d+='C'+c1x.toFixed(1)+' '+c1y.toFixed(1)+' '+c2x.toFixed(1)+' '+c2y.toFixed(1)+' '+p2[0].toFixed(1)+' '+p2[1].toFixed(1);
  }
  return d;
}
function drawPanel(id,box,dom,xTicks,xMinor,xLabels,cols,vals,lineX,lineY,bandX,bandHi,bandLo){
  const g=document.querySelector('#'+id+' .marks');
  const sx=v=>box.l+(v-dom.x0)/(dom.x1-dom.x0)*(box.r-box.l);
  const sy=v=>box.b-(v-dom.y0)/(dom.y1-dom.y0)*(box.b-box.t);
  const bg=mk(g,'rect',{x:box.l,y:box.t,width:box.r-box.l,height:box.b-box.t,fill:'#fff'});
  
  
  yMinor.forEach(v=>{
    const l=mk(g,'line',{x1:box.l,x2:box.r,y1:sy(v),y2:sy(v),stroke:'#efefef','stroke-width':2});
    
    
  });
  xMinor.forEach(v=>{
    const l=mk(g,'line',{x1:sx(v),x2:sx(v),y1:box.t,y2:box.b,stroke:'#efefef','stroke-width':2});
    
    
  });
  yTicks.forEach(v=>{
    const l=mk(g,'line',{x1:box.l,x2:box.r,y1:sy(v),y2:sy(v),stroke:'#ebebeb','stroke-width':3.6});
    
    
  });
  xTicks.forEach(v=>{
    const l=mk(g,'line',{x1:sx(v),x2:sx(v),y1:box.t,y2:box.b,stroke:'#ebebeb','stroke-width':3.6});
    
    
  });
  const pts=mk(g,'g',{fill:'#0000ff','fill-opacity':0.62,stroke:'#0000ff','stroke-opacity':0.85,'stroke-width':2});
  
  
  cols.forEach((cx,i)=>{
    vals[i].forEach(v=>{
      const c=mk(pts,'circle',{cx:sx(cx).toFixed(1),cy:sy(v).toFixed(1),r:6.4});
      
      
    });
  });
  const runs=mk(g,'g',{stroke:'#0000ff','stroke-width':14.4});
  
  
  cols.forEach((cx,i)=>{
    const sorted=vals[i].slice().sort((a,b)=>b-a);
    for(let k=0;k<sorted.length-1;k++){
      if(sorted[k]-sorted[k+1]<=1.05){
        const r=mk(runs,'line',{x1:sx(cx).toFixed(1),x2:sx(cx).toFixed(1),y1:sy(sorted[k]).toFixed(1),y2:sy(sorted[k+1]).toFixed(1)});
        
        
      }
    }
  });
  const hi=bandX.map((x,i)=>[sx(x),sy(bandHi[i])]);
  const lo=bandX.map((x,i)=>[sx(x),sy(bandLo[i])]).reverse();
  const ribbon=mk(g,'path',{d:spline(hi)+'L'+lo[0][0].toFixed(1)+' '+lo[0][1].toFixed(1)+splineTail(lo)+'Z',fill:'#c2c2c2','fill-opacity':0.42});
  
  
  const curve=mk(g,'path',{d:spline(lineX.map((x,i)=>[sx(x),sy(lineY[i])])),fill:'none',stroke:'#ff0000','stroke-width':8.5});
  
  
  const border=mk(g,'rect',{x:box.l,y:box.t,width:box.r-box.l,height:box.b-box.t,fill:'none',stroke:'#444','stroke-width':2.6});
  
  
  yTicks.forEach(v=>{
    const t=mk(g,'line',{x1:box.l-10,x2:box.l,y1:sy(v),y2:sy(v),stroke:'#333','stroke-width':3});
    
    
    const lab=mk(g,'text',{x:box.l-19,y:sy(v)+10,'text-anchor':'end',class:'tick'});
    
    
    lab.textContent=String(v);
  });
  xTicks.forEach((v,i)=>{
    const t=mk(g,'line',{x1:sx(v),x2:sx(v),y1:box.b,y2:box.b+10,stroke:'#333','stroke-width':3});
    
    
    const lab=mk(g,'text',{x:sx(v),y:box.b+37,'text-anchor':'middle',class:'tick'});
    
    
    lab.textContent=xLabels[i];
  });
}
const topA={t:38,b:862};
const botA={t:1151,b:1976};
drawPanel('panel-d',{l:107,r:1403,t:topA.t,b:topA.b},{x0:34.067,x1:41.443,y0:-4.24,y1:95.55},dXTicks,dXMinor,dXTicks.map(String),dCols,dVals,dLineX,dLineY,dBandX,dBandHi,dBandLo);
drawPanel('panel-e',{l:1559,r:2855,t:topA.t,b:topA.b},{x0:-20.849,x1:-1.874,y0:-10.97,y1:95.77},eXTicks,eXMinor,eXTicks.map(v=>'\u2212'+Math.abs(v)),eCols,eVals,eLineX,eLineY,eBandX,eBandHi,eBandLo);
drawPanel('panel-f',{l:3020,r:4316,t:topA.t,b:topA.b},{x0:201.18,x1:241.85,y0:-4.24,y1:95.55},fXTicks,fXMinor,fXTicks.map(String),fCols,fVals,fLineX,fLineY,fBandX,fBandHi,fBandLo);
drawPanel('panel-g',{l:107,r:1403,t:botA.t,b:botA.b},{x0:-.513,x1:17.3,y0:-4.23,y1:95.53},gXTicks,gXMinor,gXTicks.map(String),gCols,gVals,gLineX,gLineY,gBandX,gBandHi,gBandLo);
drawPanel('panel-h',{l:1559,r:2855,t:botA.t,b:botA.b},{x0:19.016,x1:40.99,y0:-4.23,y1:95.53},hXTicks,hXMinor,hXTicks.map(String),hCols,hVals,hLineX,hLineY,hBandX,hBandHi,hBandLo);
drawPanel('panel-i',{l:3020,r:4316,t:botA.t,b:botA.b},{x0:4.805,x1:9.198,y0:-4.23,y1:95.53},iXTicks,iXMinor,iXTicks.map(String),iCols,iVals,iLineX,iLineY,iBandX,iBandHi,iBandLo);
</script>
</body>
</html>
